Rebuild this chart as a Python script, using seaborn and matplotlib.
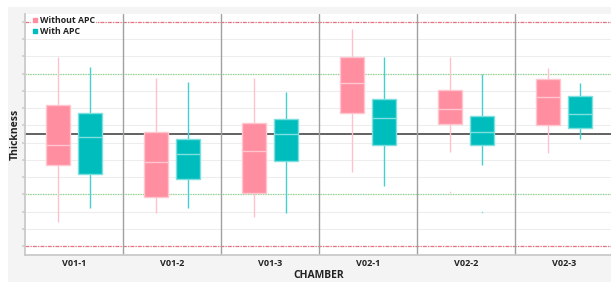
import numpy as np
import pandas as pd
import matplotlib
matplotlib.use("Agg")
import matplotlib.pyplot as plt
from matplotlib.lines import Line2D
from matplotlib.patches import Rectangle
import seaborn as sns

# ---- data ----
chambers = ["V01-1", "V01-2", "V01-3", "V02-1", "V02-2", "V02-3"]
groups = ["Without APC", "With APC"]

# Without APC
wo_low = [1.39, 1.90, 1.68, 4.31, 5.47, 5.38]
wo_q1 = [4.70, 2.83, 3.09, 7.74, 7.08, 7.04]
wo_med = [5.86, 4.86, 5.51, 9.48, 7.93, 8.63]
wo_q3 = [8.18, 6.60, 7.16, 10.99, 9.05, 9.69]
wo_high = [10.95, 9.73, 9.77, 12.58, 10.99, 10.35]
wo_out = [None, None, None, None, 3.13, None]

# With APC
w_low = [2.22, 2.22, 1.90, 3.48, 4.72, 6.19]
w_q1 = [4.18, 3.87, 4.93, 5.88, 5.84, 6.83]
w_med = [6.34, 5.32, 6.48, 7.41, 6.63, 7.68]
w_q3 = [7.74, 6.19, 7.37, 8.53, 7.53, 8.69]
w_high = [10.37, 9.50, 8.92, 10.99, 9.98, 9.44]
w_out = [None, None, None, None, 1.96, None]

target = 6.5
spec_green = [10, 3]
spec_red = [13, 0]

# ---- build sample table whose quartiles/whiskers reproduce the stats ----
rows = []
def add(group, chambers_, lo, q1, md, q3, hi, out):
    for c, a, b, m, d, e, o in zip(chambers_, lo, q1, md, q3, hi, out):
        first = a if o is None else o
        for v in [first, a, b, m, m, m, d, e, e]:
            rows.append({"CHAMBER": c, "Thickness": v, "group": group})

add(groups[0], chambers, wo_low, wo_q1, wo_med, wo_q3, wo_high, wo_out)
add(groups[1], chambers, w_low, w_q1, w_med, w_q3, w_high, w_out)
df = pd.DataFrame(rows)

pink = "#FF8FA0"
teal = "#00BDBD"
pink_light = "#FFC6CF"
teal_light = "#7FDEDE"
pink_whisk = "#FFC2CC"
teal_whisk = "#45CFCF"

sns.set_theme(style="white")
plt.rcParams["font.family"] = ["Open Sans", "DejaVu Sans"]

fig = plt.figure(figsize=(6.11, 2.82), dpi=100)
fig.patch.set_facecolor("white")
bgrect = Rectangle((8 / 611, 0), 1, (282 - 7) / 282, transform=fig.transFigure,
                   facecolor="#F4F4F4", edgecolor="none", zorder=-10)
fig.add_artist(bgrect)
ax = fig.add_axes([25 / 611, 1 - 255 / 282, 588 / 611, (255 - 14) / 282])
ax.set_zorder(1)
ax.set_facecolor("white")

sns.boxplot(data=df, x="CHAMBER", y="Thickness", hue="group", order=chambers,
            hue_order=groups, palette=[pink, teal], width=0.65, gap=0.25,
            whis=1.5, showcaps=False, linewidth=1.0, saturation=1,
            flierprops=dict(marker="o", markersize=1.2, markeredgewidth=0),
            ax=ax, legend=False)

for cont, col, lite, wk in zip(ax.containers, [pink, teal], [pink_light, teal_light],
                               [pink_whisk, teal_whisk]):
    for b in cont.boxes:
        b.set_facecolor(col)
        b.set_edgecolor(lite)
        b.set_linewidth(1.0)
        b.set_zorder(6)
    for m in cont.medians:
        m.set_color(lite)
        m.set_linewidth(1.0)
        m.set_zorder(7)
    for w in cont.whiskers:
        w.set_color(wk)
        w.set_linewidth(1.0)
        w.set_zorder(5)
    for f in cont.fliers:
        f.set_markerfacecolor(lite)
        f.set_markeredgecolor(lite)
        f.set_zorder(5)

# gridlines
ax.set_ylim(-0.52, 13.46)
ax.set_xlim(-0.5, 5.5)
ax.set_yticks(np.arange(0, 14))
ax.yaxis.grid(True, color="#EDEDED", linewidth=0.8, zorder=0)
ax.set_axisbelow(True)

# reference lines
for v in spec_red:
    ax.axhline(v, color="#E8707F", linewidth=0.9, linestyle=(0, (3, 1, 1, 1)), zorder=2)
for v in spec_green:
    ax.axhline(v, color="#8AD68A", linewidth=0.9, linestyle=(0, (1, 1)), zorder=2)
ax.axhline(target, color="#555555", linewidth=1.3, zorder=2)
for i in range(1, len(chambers)):
    ax.axvline(i - 0.5, color="#A0A0A0", linewidth=1.0, zorder=2)

for s in ["top", "right"]:
    ax.spines[s].set_visible(False)
ax.spines["left"].set_color("#C8C8C8")
ax.spines["bottom"].set_color("#C8C8C8")
ax.tick_params(axis="y", length=2, color="#D0D0D0", labelleft=False, left=True)
ax.tick_params(axis="x", length=0, pad=3)
for t in ax.get_xticklabels():
    t.set_fontweight("bold")
    t.set_fontsize(6.5)
    t.set_color("#222222")
ax.set_xlabel("CHAMBER", fontsize=7.5, fontweight="bold", labelpad=1, color="#222222")
ax.set_ylabel("Thickness", fontsize=7.5, fontweight="bold", labelpad=1, color="#222222")

handles = [Line2D([0], [0], marker="s", linestyle="none", markersize=3,
                  markerfacecolor=c, markeredgecolor=c) for c in [pink, teal]]
leg = ax.legend(handles, groups, loc="upper left", bbox_to_anchor=(0.008, 1.0),
                frameon=True, fontsize=6.3, handletextpad=0.1, handlelength=0.8,
                borderpad=0.15, labelspacing=0.2, borderaxespad=0.1)
leg.get_frame().set_facecolor("white")
leg.get_frame().set_edgecolor("none")
leg.get_frame().set_alpha(1)
leg.set_zorder(10)
for t in leg.get_texts():
    t.set_fontweight("bold")
    t.set_color("#222222")

fig.savefig("out.png", dpi=100)
